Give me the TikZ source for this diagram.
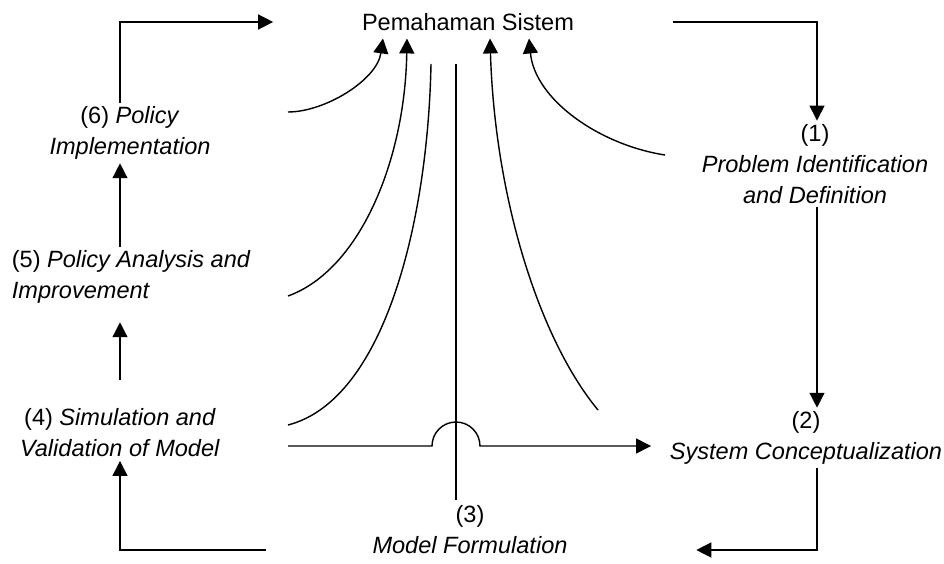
\documentclass[tikz,border=0pt]{standalone}
\usepackage{fontspec}
\setmainfont{Liberation Sans}
\usepackage{tikz}
\usetikzlibrary{positioning, arrows.meta, calc}

\begin{document}
\begin{tikzpicture}[x=0.02cm, y=-0.02cm]
	% Define styles
	\tikzset{
		stage/.style={align=center, inner sep=2pt, font=\fontsize{13.4}{17.6}\selectfont},
		line/.style={draw, line width=0.8pt, -{Triangle[length=8.5pt, width=8.5pt]}},
		plain/.style={draw, line width=0.8pt}
	}
	\useasboundingbox (0,0) rectangle (944,564);
	
	% Nodes
	\node[stage] (ps) at (468,22) {Pemahaman Sistem};
	\node[stage] (p1) at (815,164) {(1)\\\textit{Problem Identification}\\\textit{and Definition}};
	\node[stage] (p2) at (806,438) {(2)\\\textit{System Conceptualization}};
	\node[stage] (p3) at (470,530) {(3)\\\textit{Model Formulation}};
	\node[stage] (p4) at (120,433) {(4) \textit{Simulation and}\\\textit{Validation of Model}};
	\node[stage, align=left, anchor=west] (p5) at (8,277) {(5) \textit{Policy Analysis and}\\\textit{Improvement}};
	\node[stage] (p6) at (130,133) {(6) \textit{Policy}\\\textit{Implementation}};
	
	% Helper coordinates
	\coordinate (lcol) at (120,0);
	\coordinate (rcol) at (817,0);
	\coordinate (ybot) at (0,550);
	\coordinate (a1) at (288,112);
	\coordinate (a2) at (288,296);
	\coordinate (a3) at (288,425);
	\coordinate (a3top) at (431,64);
	\coordinate (v1) at (456,64);
	\coordinate (v2) at (456,500);
	\coordinate (a5) at (598,410);
	\coordinate (a6) at (665,155);
	\coordinate (h0) at (288,446);
	
	% Outer loop
	\draw[line, shorten >=1.7cm] (p6.north -| lcol) |- (ps.west);
	\draw[line, shorten <=1.9cm] (ps.east) -| (p1.north -| rcol);
	\draw[line] (p1.south -| rcol) -- (p2.north -| rcol);
	\draw[line, shorten >=2.5cm] (p2.south -| rcol) |- (p3.east |- ybot);
	\draw[line, shorten <=2.06cm] (p3.west |- ybot) -| (p4.south -| lcol);
	\draw[line, shorten <=0.5cm, shorten >=0.3cm] (p4.north -| lcol) -- (p5.south -| lcol);
	\draw[line] (p5.north -| lcol) -- (p6.south -| lcol);
	
	% Curves up to Pemahaman Sistem
	\draw[line] (a1) .. controls (325,112) and (377,80) .. ($(ps.south)+(-85,4)$);
	\draw[line] (a2) .. controls (360,270) and (405,160) .. ($(ps.south)+(-61,4)$);
	\draw[plain] (a3) .. controls (385,400) and (428,220) .. (a3top);
	\draw[plain] (v1) -- (v2);
	\draw[line] (a5) .. controls (540,340) and (495,200) .. ($(ps.south)+(22,4)$);
	\draw[line] (a6) .. controls (600,145) and (535,100) .. ($(ps.south)+(61,4)$);
	
	% Line hopping over the vertical
	\draw[line, shorten >=0.3cm] (h0) -- ($(v1 |- h0)+(-24,0)$) arc[start angle=180, end angle=0, radius=0.48cm] -- (p2.west |- h0);
	
\end{tikzpicture}
\end{document}
